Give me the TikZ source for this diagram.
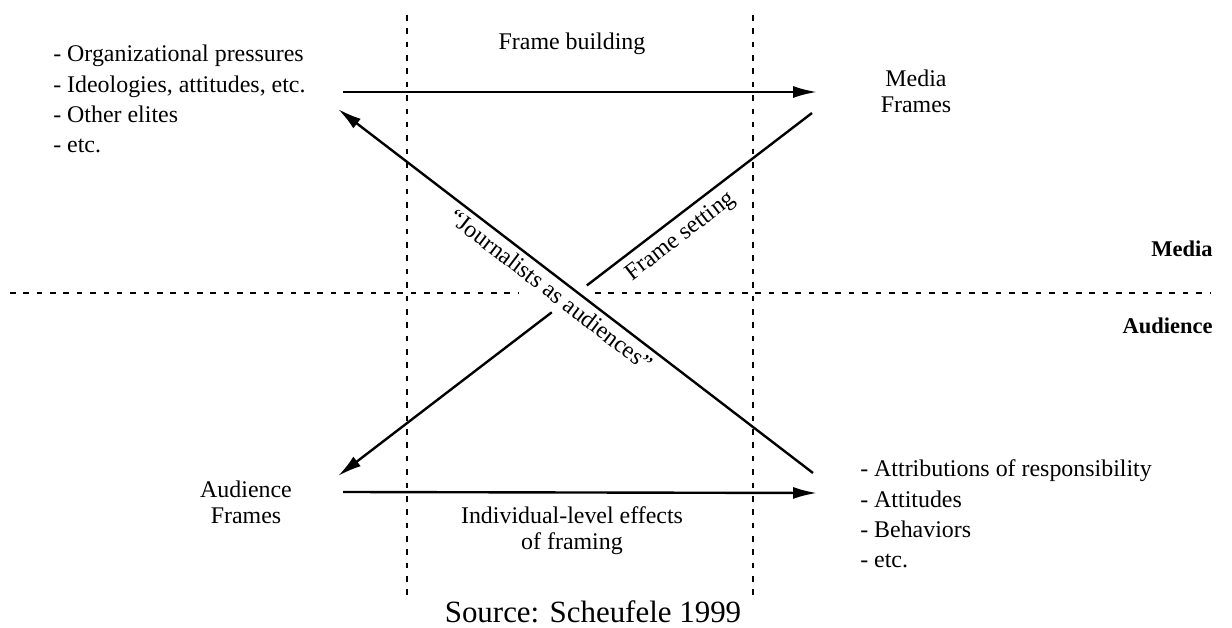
\documentclass[tikz,border=0pt]{standalone}
\usepackage{fontspec}
\setmainfont{Liberation Serif}
\usetikzlibrary{arrows.meta,calc}

\tikzset{
  flow/.style={line width=1.7pt,-{Latex[length=17pt,width=8.5pt]}},
  bar/.style={line width=1.7pt},
  divider/.style={line width=0.9pt,dash pattern=on 4pt off 5.5pt},
  lbl/.style={font=\fontsize{17}{18.5}\selectfont,inner sep=0pt,align=center},
  lst/.style={font=\fontsize{17}{21.5}\selectfont,inner sep=0pt,align=left},
  side/.style={font=\fontsize{16}{18}\selectfont\bfseries,inner sep=0pt},
}

\begin{document}
\begin{tikzpicture}[x=0.025cm,y=-0.025cm]
  \useasboundingbox (0,0) rectangle (1232,628);

  % zone dividers
  \draw[divider] (407,15) -- (407,597);
  \draw[divider] (753,15) -- (753,597);
  \draw[divider] (10,293) -- (518,293);
  \draw[divider] (595,293) -- (1210,293);

  \node[side,anchor=base east] (media) at (1213,257) {Media};
  \node[side,anchor=base east] (aud) at (1213,334) {Audience};

  % the four corners
  \node[lst,anchor=west] (inputs) at (53,99) {- Organizational pressures\\- Ideologies, attitudes, etc.\\- Other elites\\- etc.};
  \node[lbl] (mf) at (916,91) {Media\\Frames};
  \node[lbl] (af) at (246,502) {Audience\\Frames};
  \node[lst,anchor=west] (outcomes) at (860,514) {- Attributions of responsibility\\- Attitudes\\- Behaviors\\- etc.};

  % arrow ends next to the corners
  \coordinate (inputs-out) at (343,92);
  \coordinate (mf-in) at (817,92);
  \coordinate (mf-out) at (812,113);
  \coordinate (af-in) at (338,476);
  \coordinate (af-out) at (343,492);
  \coordinate (outcomes-in) at (817,493);
  \coordinate (outcomes-out) at (813,473);
  \coordinate (inputs-in) at (338,109);

  \draw[flow] (inputs-out) -- (mf-in);
  \draw[flow] (af-out) -- (outcomes-in);
  \draw[flow] (outcomes-out) -- (inputs-in);
  \draw[bar] (mf-out) -- ($(mf-out)!0.475!(af-in)$);
  \draw[flow] ($(mf-out)!0.549!(af-in)$) -- (af-in);

  \node[lbl,anchor=base] (fb) at (572,50) {Frame building};
  \node[lbl] (ie) at (572,531) {Individual-level effects\\of framing};
  \node[lbl,rotate=-37.5] (ja) at (551,290) {“Journalists as audiences”};
  \node[lbl,rotate=37.5] (fs) at (681,237) {Frame setting};

  \node[font=\fontsize{22}{26}\selectfont,inner sep=0pt,anchor=base] (src) at (593,623) {Source: Scheufele 1999};
\end{tikzpicture}
\end{document}
